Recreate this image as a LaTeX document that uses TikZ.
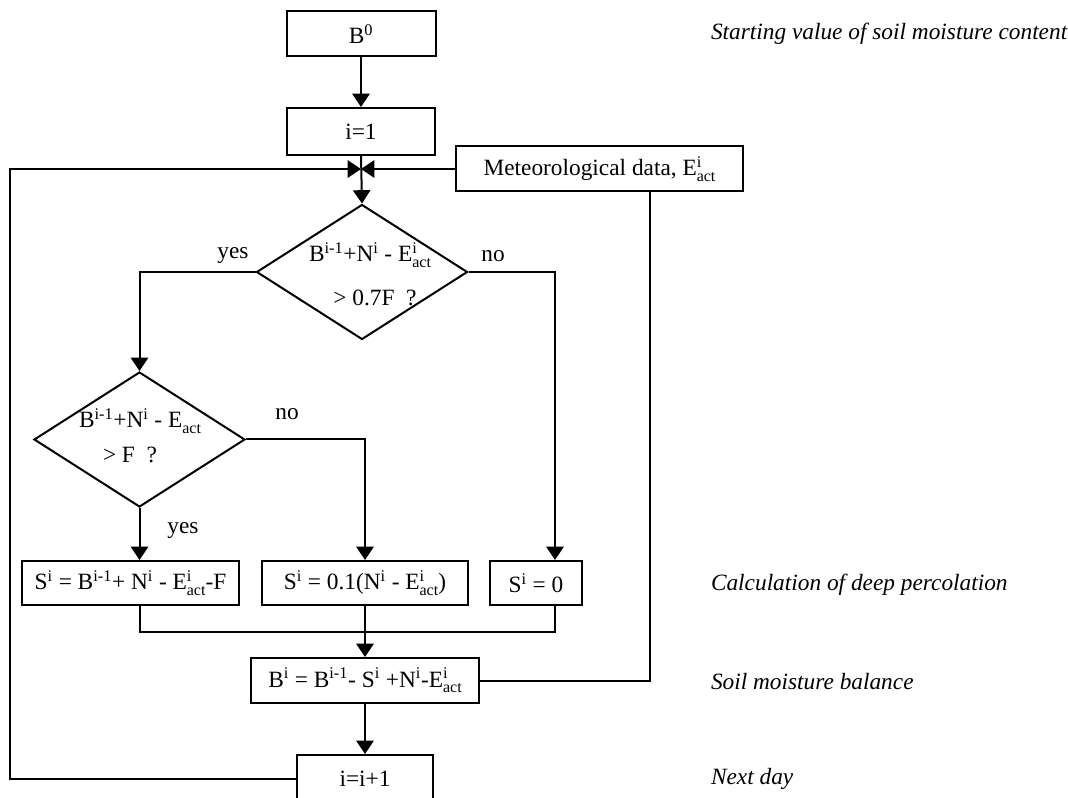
\documentclass[tikz,border=0pt]{standalone}
\usepackage{fontspec}
\setmainfont{Liberation Serif}
\usetikzlibrary{arrows.meta,shapes.geometric}

\newcommand{\actsub}{\raisebox{-4.2pt}{\fontsize{12}{12}\selectfont act}}
\newcommand{\Eact}{E\rlap{\textsuperscript{i}}\actsub}

\tikzset{every picture/.style={line width=1.5pt}}
\tikzset{
  box/.style={draw, rectangle, inner sep=0pt, font=\fontsize{17.5}{20}\selectfont},
  decision/.style={draw, diamond, inner sep=0pt, minimum width=158.25pt, minimum height=101.25pt},
  txt/.style={inner sep=0pt, font=\fontsize{17.5}{20}\selectfont},
  note/.style={inner sep=0pt, anchor=west, font=\fontsize{17.5}{20}\selectfont\itshape},
  flow/.style={-{Triangle[length=10pt,width=13pt]}},
}

\begin{document}
\begin{tikzpicture}[x=0.75pt,y=0.75pt,yscale=-1,xscale=1]
\useasboundingbox (0,0) rectangle (1068,798);
\clip (0,0) rectangle (1068,798);

%Shape: Rectangle
\draw (361,34) node [box, minimum width=111.75pt, minimum height=33.75pt] (b0) {B\textsuperscript{0}};
%Shape: Rectangle
\draw (361,131.5) node [box, minimum width=111pt, minimum height=35.25pt] (ione) {i=1};
%Shape: Rectangle
\draw (599.5,169) node [box, minimum width=215.25pt, minimum height=33.75pt] (meteo) {Meteorological data, \Eact};
%Shape: Diamond
\draw (362,272) node [decision] (d1) {};
%Shape: Diamond
\draw (139.5,439.5) node [decision] (d2) {};
%Shape: Rectangle
\draw (130.5,583) node [box, minimum width=162.75pt, minimum height=33pt] (sbig) {S\textsuperscript{i} = B\textsuperscript{i-1}+ N\textsuperscript{i} - \Eact-F};
%Shape: Rectangle
\draw (365,583) node [box, minimum width=154.5pt, minimum height=33pt] (smid) {S\textsuperscript{i} = 0.1(N\textsuperscript{i} - \Eact)};
%Shape: Rectangle
\draw (536,583) node [box, minimum width=69pt, minimum height=33pt] (szero) {S\textsuperscript{i} = 0};
%Shape: Rectangle
\draw (365,680.5) node [box, minimum width=171pt, minimum height=33.75pt] (bal) {B\textsuperscript{i} = B\textsuperscript{i-1}- S\textsuperscript{i} +N\textsuperscript{i}-\Eact};
%Shape: Rectangle
\draw (365,779) node [box, minimum width=102pt, minimum height=36pt] (inext) {i=i+1};

% Corners of the connectors
\coordinate (j) at (361,169);
\coordinate (lp) at (10,169);
\coordinate (rb) at (555,0);
\coordinate (mg) at (365,632);
\coordinate (md) at (650,0);

%Straight Lines
\draw [flow] (b0) -- (ione);
\draw [flow] (ione.south) -- (d1.north);
\draw [flow] (meteo.west) -- (j);
\draw [flow] (inext.west) -| (lp) -- (j);
%Straight Lines
\draw [flow] (d1.west) -| (d2.north);
\draw [flow] (d1.east) -| (rb |- szero.north);
\draw [flow] (d2.east) -| (smid.north);
\draw [flow] (d2.south) -- (d2.south |- sbig.north);
%Straight Lines
\draw (d2.south |- sbig.south) |- (mg) -| (rb |- szero.south);
\draw [flow] (smid.south) -- (bal.north);
\draw (meteo.south -| md) |- (bal.east);
\draw [flow] (bal.south) -- (inext.north);

% Text Node
\draw (370,262) node [txt, anchor=base] (d1a) {B\textsuperscript{i-1}+N\textsuperscript{i} - \Eact};
% Text Node
\draw (375,306) node [txt, anchor=base] (d1b) {> 0.7F\ \ ?};
% Text Node
\draw (140,428) node [txt, anchor=base] (d2a) {B\textsuperscript{i-1}+N\textsuperscript{i} - E\actsub};
% Text Node
\draw (130,463) node [txt, anchor=base] (d2b) {> F\ \ ?};
% Text Node
\draw (233,256) node [txt] (yes1) {yes};
% Text Node
\draw (493,256) node [txt] (no1) {no};
% Text Node
\draw (287,414) node [txt] (no2) {no};
% Text Node
\draw (183,531) node [txt] (yes2) {yes};

% Text Node
\draw (710,34) node [note] (n1) {Starting value of soil moisture content};
% Text Node
\draw (710,585) node [note] (n2) {Calculation of deep percolation};
% Text Node
\draw (710,682) node [note] (n3) {Soil moisture balance};
% Text Node
\draw (710,779) node [note] (n4) {Next day};

\end{tikzpicture}
\end{document}
